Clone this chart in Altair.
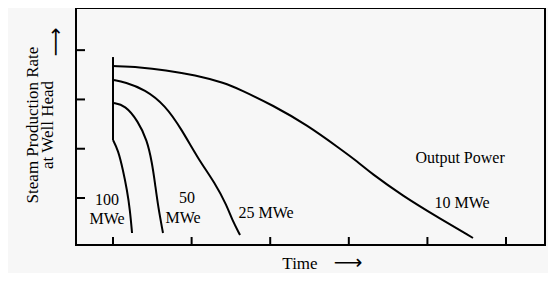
import altair as alt
import pandas as pd

# ---- data (time in tick units, rate in tick units) ----
t_10 = [0.0, 0.344, 0.662, 1.043, 1.425, 1.616, 2.036, 2.468, 2.888, 3.117, 3.270, 3.690, 4.122, 4.580]
r_10 = [3.677, 3.657, 3.596, 3.495, 3.333, 3.200, 2.880, 2.481, 2.000, 1.730, 1.520, 1.040, 0.620, 0.189]

t_25 = [0.0, 0.153, 0.407, 0.662, 0.878, 1.081, 1.298, 1.450, 1.514, 1.616]
r_25 = [3.394, 3.353, 3.200, 2.886, 2.379, 1.800, 1.304, 0.840, 0.560, 0.250]

t_50 = [0.0, 0.153, 0.318, 0.433, 0.496, 0.534, 0.573, 0.636]
r_50 = [2.929, 2.886, 2.560, 2.176, 1.720, 1.304, 0.830, 0.290]

t_100 = [0.0, 0.064, 0.127, 0.178, 0.216, 0.242]
r_100 = [2.176, 1.974, 1.568, 1.162, 0.757, 0.290]

start_line_t = [0.0]
start_line_top = [3.86]
start_line_bottom = [2.176]

x_ticks = [0, 1, 2, 3, 4, 5]
y_ticks = [1, 2, 3, 4]

label_text = ["100", "MWe", "50", "MWe", "25 MWe", "Output Power", "10 MWe"]
label_t = [-0.076, -0.076, 0.941, 0.891, 1.947, 4.415, 4.440]
label_r = [0.950, 0.575, 1.000, 0.595, 0.696, 1.811, 0.898]

series = {"10 MWe": (t_10, r_10), "25 MWe": (t_25, r_25),
          "50 MWe": (t_50, r_50), "100 MWe": (t_100, r_100)}
rows = []
for name, (ts, rs) in series.items():
    for i, (t, r) in enumerate(zip(ts, rs)):
        rows.append({"series": name, "i": i, "t": t, "r": r})
df = pd.DataFrame(rows)

FONT = "Liberation Serif"
xs = alt.Scale(domain=[-0.471, 5.496], nice=False, zero=False)
ys = alt.Scale(domain=[0.047, 4.855], nice=False, zero=False)

lines = alt.Chart(df).mark_line(color="black", strokeWidth=2, interpolate="basis").encode(
    x=alt.X("t:Q", scale=xs, axis=None),
    y=alt.Y("r:Q", scale=ys, axis=None),
    detail="series:N",
    order="i:Q",
)

start = alt.Chart(pd.DataFrame({"t": start_line_t, "r": start_line_top, "r2": start_line_bottom})).mark_rule(
    color="black", strokeWidth=2).encode(
    x=alt.X("t:Q", scale=xs, axis=None),
    y=alt.Y("r:Q", scale=ys, axis=None),
    y2="r2:Q",
)

xt = alt.Chart(pd.DataFrame({"t": x_ticks})).mark_rule(color="black", strokeWidth=2).encode(
    x=alt.X("t:Q", scale=xs, axis=None),
    y=alt.value(237), y2=alt.value(229),
)
yt = alt.Chart(pd.DataFrame({"r": y_ticks})).mark_rule(color="black", strokeWidth=2).encode(
    y=alt.Y("r:Q", scale=ys, axis=None),
    x=alt.value(0), x2=alt.value(9),
)

labels = alt.Chart(pd.DataFrame({"text": label_text, "t": label_t, "r": label_r})).mark_text(
    font=FONT, fontSize=16, color="black").encode(
    x=alt.X("t:Q", scale=xs, axis=None),
    y=alt.Y("r:Q", scale=ys, axis=None),
    text="text:N",
)

base = alt.Chart(pd.DataFrame({"a": [0]}))
ytitle1 = base.mark_text(text="Steam Production Rate", font=FONT, fontSize=17, angle=270,
                         color="black").encode(x=alt.value(-43), y=alt.value(117))
ytitle2 = base.mark_text(text="at Well Head", font=FONT, fontSize=17, angle=270,
                         color="black").encode(x=alt.value(-28), y=alt.value(117))
yarrow = base.mark_text(text="⟶", font="DejaVu Sans", fontSize=20, angle=270,
                        color="black").encode(x=alt.value(-20), y=alt.value(34))
xtitle = base.mark_text(text="Time", font=FONT, fontSize=17, color="black").encode(
    x=alt.value(224), y=alt.value(256))
xarrow = base.mark_text(text="⟶", font="DejaVu Sans", fontSize=20, color="black").encode(
    x=alt.value(272), y=alt.value(255))

chart = alt.layer(lines, start, xt, yt, labels, ytitle1, ytitle2, yarrow, xtitle, xarrow).properties(
    width=469, height=237,
    autosize=alt.AutoSizeParams(type="none"),
    padding={"left": 68, "top": 0, "right": 3, "bottom": 28},
    background="#f7f7f7",
).configure_view(stroke="black", strokeWidth=2)

chart.save("out.html", embed_options={"renderer": "svg", "actions": False})
